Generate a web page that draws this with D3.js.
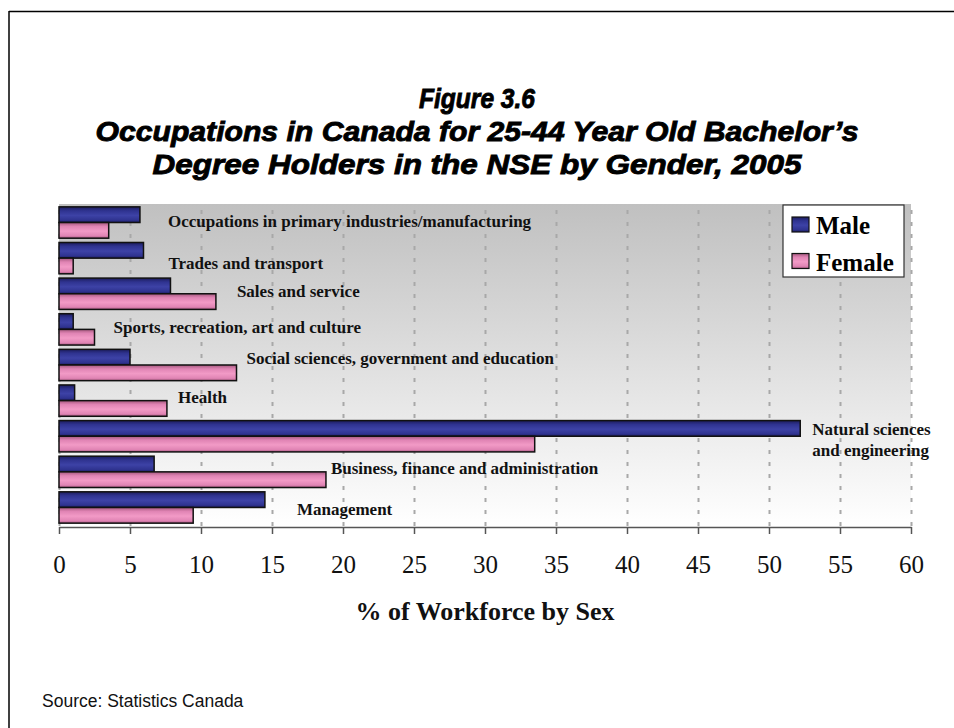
<!DOCTYPE html>
<html>
<head>
<meta charset="utf-8">
<script src="https://cdn.jsdelivr.net/npm/d3@7"></script>
<style>
  body { margin: 0; background: #fff; }
  svg { display: block; }
</style>
</head>
<body>
<div id="chart"></div>
<script>
// ---- data ----
const categories = [
  "Occupations in primary industries/manufacturing",
  "Trades and transport",
  "Sales and service",
  "Sports, recreation, art and culture",
  "Social sciences, government and education",
  "Health",
  "Natural sciences\nand engineering",
  "Business, finance and administration",
  "Management"
];
const male   = [5.7, 5.95, 7.85, 1.0, 5.0, 1.1, 52.2, 6.7, 14.5];
const female = [3.5, 1.0, 11.05, 2.5, 12.5, 7.6, 33.5, 18.8, 9.45];
const seriesNames = ["Male", "Female"];
const xTicks = [0, 5, 10, 15, 20, 25, 30, 35, 40, 45, 50, 55, 60];

const titleLines = [
  "Figure 3.6",
  "Occupations in Canada for 25-44 Year Old Bachelor\u2019s",
  "Degree Holders in the NSE by Gender, 2005"
];

// label nudges (px) so category names sit where the original put them
const labelDx = [28, 25, 21, 19, 10, 11, 12, 5, 32];
const labelDy = [-1.5, 5, -2, -2, -7, -3.5, 4, -3.5, 2];

// ---- layout ----
const width = 954, height = 728;
let padding = {top: 204, right: 43, bottom: 202, left: 59};
const serif = "'Liberation Serif', 'Times New Roman', serif";

const svg = d3.select("#chart").append("svg")
  .attr("width", width)
  .attr("height", height);

const defs = svg.append("defs");

// plot background: grey fading to white
let bg = defs.append("linearGradient")
  .attr("id", "bggrad").attr("x1", 0).attr("y1", 0).attr("x2", 0).attr("y2", 1);
bg.append("stop").attr("offset", "0%").attr("stop-color", "#c0c0c0");
bg.append("stop").attr("offset", "100%").attr("stop-color", "#ffffff");

function barGradient(id, dark, mid, light) {
  let g = defs.append("linearGradient")
    .attr("id", id).attr("x1", 0).attr("y1", 0).attr("x2", 0).attr("y2", 1);
  g.append("stop").attr("offset", "0%").attr("stop-color", dark);
  g.append("stop").attr("offset", "25%").attr("stop-color", mid);
  g.append("stop").attr("offset", "55%").attr("stop-color", light);
  g.append("stop").attr("offset", "85%").attr("stop-color", mid);
  g.append("stop").attr("offset", "100%").attr("stop-color", dark);
}
barGradient("malegrad", "#1c1c5c", "#2f3390", "#3d42a6");
barGradient("femalegrad", "#a4587e", "#e084b4", "#f29ac6");
const fills = ["url(#malegrad)", "url(#femalegrad)"];

// frame (only top and left edges are visible in the original)
svg.append("line").attr("x1", 9).attr("x2", width).attr("y1", 11.5).attr("y2", 11.5)
  .attr("stroke", "#000").attr("stroke-width", 1.5);
svg.append("line").attr("x1", 9).attr("x2", 9).attr("y1", 11).attr("y2", height)
  .attr("stroke", "#000").attr("stroke-width", 1.5);

// scales
let x = d3.scaleLinear()
  .domain([0, 60])
  .range([padding.left, width - padding.right]);

let y = d3.scaleBand()
  .domain(categories)
  .range([padding.top, height - padding.bottom])
  .paddingInner(0.12)
  .paddingOuter(0.08);

let ySub = d3.scaleBand()
  .domain(seriesNames)
  .range([0, y.bandwidth()]);

// plot area
svg.append("rect")
  .attr("x", x(0)).attr("y", padding.top)
  .attr("width", x(60) - x(0))
  .attr("height", height - padding.bottom - padding.top)
  .attr("fill", "url(#bggrad)");

// vertical gridlines
svg.append("g")
  .attr("class", "grid")
  .attr("transform", "translate(0," + (height - padding.bottom) + ")")
  .call(d3.axisBottom(x).tickValues(xTicks)
    .tickSize(-(height - padding.bottom - padding.top))
    .tickFormat(""))
  .call(g => g.select(".domain").remove())
  .call(g => g.selectAll("line")
    .attr("stroke", "#a8a8a8")
    .attr("stroke-width", 2)
    .attr("stroke-dasharray", "4,8"));

// bars
const rows = categories.map((c, i) => ({cat: c, vals: [male[i], female[i]]}));

let groups = svg.selectAll(".cat")
  .data(rows)
  .join("g")
    .attr("class", "cat")
    .attr("transform", d => "translate(0," + y(d.cat) + ")");

groups.selectAll("rect")
  .data(d => d.vals.map((v, j) => ({series: seriesNames[j], value: v, j: j})))
  .join("rect")
    .attr("x", x(0))
    .attr("y", d => ySub(d.series))
    .attr("width", d => x(d.value) - x(0))
    .attr("height", ySub.bandwidth())
    .attr("fill", d => fills[d.j])
    .attr("stroke", "#111")
    .attr("stroke-width", 1.5);

// category labels, placed to the right of the longer bar
groups.each(function(d, i) {
  let lines = d.cat.split("\n");
  let lx = x(Math.max(d.vals[0], d.vals[1])) + labelDx[i];
  let t = d3.select(this).append("text")
    .attr("x", lx)
    .attr("y", y.bandwidth() / 2 + labelDy[i])
    .attr("font-family", serif)
    .attr("font-weight", "bold")
    .attr("font-size", "17px")
    .attr("fill", "#111");
  lines.forEach((ln, k) => {
    t.append("tspan")
      .attr("x", lx)
      .attr("dy", k === 0 ? (-(lines.length - 1) * 10.5 + 5.5) + "px" : "21px")
      .text(ln);
  });
});

// x axis
let xAxis = svg.append("g")
  .attr("class", "axis x")
  .attr("transform", "translate(0," + (height - padding.bottom + 1) + ")")
  .call(d3.axisBottom(x).tickValues(xTicks).tickSize(7).tickSizeOuter(0).tickPadding(21));
xAxis.select(".domain").attr("stroke", "#555").attr("stroke-width", 1.5);
xAxis.selectAll(".tick line").attr("stroke", "#555").attr("stroke-width", 1.5);
xAxis.selectAll("text")
  .attr("font-family", serif)
  .attr("font-size", "25px")
  .attr("fill", "#111");

// axis title
svg.append("text")
  .attr("x", 485).attr("y", 620)
  .attr("text-anchor", "middle")
  .attr("font-family", serif)
  .attr("font-weight", "bold")
  .attr("font-size", "26px")
  .attr("fill", "#111")
  .text("% of Workforce by Sex");

// legend
let legend = svg.append("g").attr("transform", "translate(783,205)");
legend.append("rect")
  .attr("width", 121).attr("height", 72)
  .attr("fill", "#fff").attr("stroke", "#333").attr("stroke-width", 1.2);
seriesNames.forEach((s, j) => {
  legend.append("rect")
    .attr("x", 9).attr("y", 12 + j * 36.5)
    .attr("width", 17).attr("height", 15)
    .attr("fill", fills[j]).attr("stroke", "#111").attr("stroke-width", 1.2);
  legend.append("text")
    .attr("x", 33).attr("y", 28.5 + j * 37.5)
    .attr("font-family", serif)
    .attr("font-weight", "bold")
    .attr("font-size", "25px")
    .attr("fill", "#000")
    .text(s);
});

// title
const titleWidths = [116, 763, 649];
titleLines.forEach((t, i) => {
  svg.append("text")
    .attr("x", 477).attr("y", 108 + i * 33)
    .attr("text-anchor", "middle")
    .attr("font-family", "'Liberation Sans Narrow', 'Liberation Sans', Arial, sans-serif")
    .attr("font-weight", "bold")
    .attr("font-style", "italic")
    .attr("font-size", "28px")
    .attr("fill", "#000")
    .attr("stroke", "#000")
    .attr("stroke-width", 0.9)
    .attr("textLength", titleWidths[i])
    .attr("lengthAdjust", "spacingAndGlyphs")
    .text(t);
});

// source
svg.append("text")
  .attr("x", 42).attr("y", 707)
  .attr("font-family", "'Liberation Sans', Arial, sans-serif")
  .attr("font-size", "17.5px")
  .attr("fill", "#111")
  .text("Source: Statistics Canada");
</script>
</body>
</html>
